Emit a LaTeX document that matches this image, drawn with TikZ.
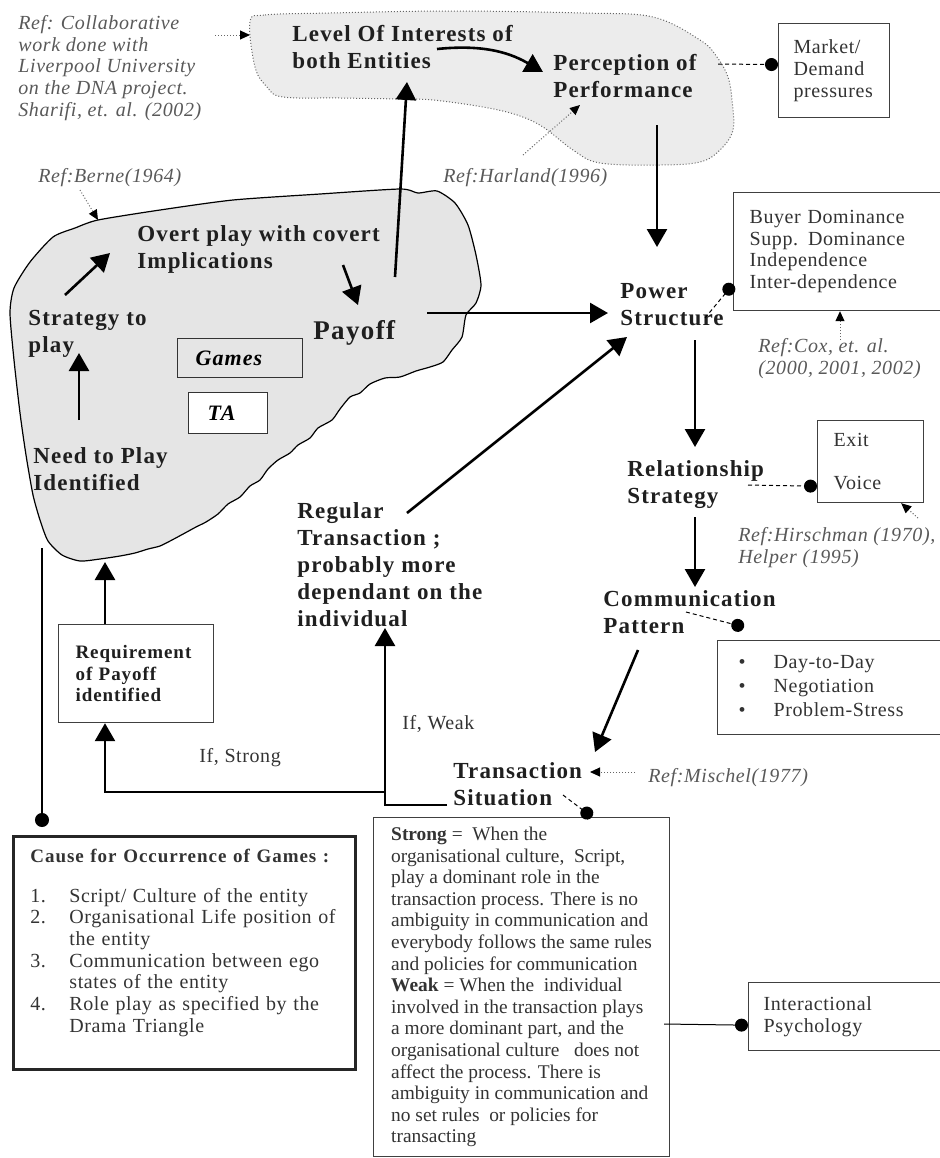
\documentclass[tikz,border=0pt]{standalone}
\usepackage{fontspec}
\setmainfont{Liberation Serif}
\newfontfamily\spacedfont[LetterSpace=5]{Liberation Serif}
\newfontfamily\lightspace[LetterSpace=3]{Liberation Serif}
\usetikzlibrary{arrows.meta}
\definecolor{cloudgray}{gray}{0.9}
\definecolor{mistgray}{gray}{0.925}

\begin{document}
\begin{tikzpicture}[x=0.5pt, y=-0.5pt,
    concept/.style={font=\spacedfont\bfseries\fontsize{11.5}{13.5}\selectfont, text=black!88, align=left, inner sep=0pt, anchor=north west},
    refnote/.style={font=\lightspace\itshape\fontsize{10}{10.85}\selectfont, text=black!65, align=left, inner sep=0pt, anchor=north west},
    smalltext/.style={font=\lightspace\fontsize{10}{10.85}\selectfont, text=black!80, inner sep=0pt, anchor=north west},
    infobox/.style={draw=black!75, line width=0.6pt, fill=white, anchor=north west, align=left, inner ysep=0pt, font=\lightspace\fontsize{10}{10.85}\selectfont, text=black!80},
    flow/.style={line width=1.3pt, -{Triangle[length=9pt,width=10pt]}},
    refarrow/.style={densely dotted, line width=0.5pt, draw=black!60, -{Triangle[length=5pt,width=4.5pt,color=black]}},
    dashlink/.style={dashed, dash pattern=on 2pt off 1.5pt, line width=0.5pt, -{Circle[length=6.5pt]}},
    dotend/.style={-{Circle[length=6.5pt]}}]
  \useasboundingbox (0,0) rectangle (939,1158);

  % the two clouds
  \draw[densely dotted, line width=0.5pt, draw=black!60, fill=mistgray] plot[smooth cycle, tension=0.6] coordinates {(250,22) (265,15) (330,13) (450,11) (583,13) (653,17) (700,40) (717,57) (728,77) (732,100) (733,130) (720,150) (700,162) (660,165) (600,163) (573,150) (543,127) (517,115) (483,107) (433,100) (400,99) (340,98) (283,97) (267,87) (255,67)};
  \coordinate (topcloud-w) at (250,35);
  \coordinate (topcloud-e) at (718,64);

  \draw[line width=0.6pt, fill=cloudgray] plot[smooth cycle, tension=0.4] coordinates {(98,220) (160,210) (233,200) (320,194) (400,189) (418,193) (437,191) (455,203) (468,225) (476,255) (481,285) (476,303) (466,315) (462,337) (452,350) (443,362) (430,367) (416,371) (400,377) (385,378) (370,384) (360,393) (350,397) (340,409) (332,420) (318,428) (310,438) (298,445) (290,453) (278,460) (268,469) (260,480) (250,486) (240,497) (228,504) (218,514) (206,522) (196,527) (185,533) (172,540) (160,546) (148,549) (135,553) (120,556) (100,559) (80,561) (62,555) (48,541) (40,520) (33,495) (26,455) (20,413) (14,360) (10,313) (14,288) (30,262) (53,237) (75,228)};
  \coordinate (gamecloud-n) at (98,220);
  \coordinate (gamecloud-s) at (105,562);
  \coordinate (gamecloud-sw) at (42,548);

  % references
  \node[refnote] (refcollab) at (18,15) {Ref: Collaborative\\work done with\\Liverpool University\\on the DNA project.\\Sharifi, et. al. (2002)};
  \node[refnote] (refberne) at (38,168) {Ref:Berne(1964)};
  \node[refnote] (refharland) at (443,168) {Ref:Harland(1996)};
  \node[refnote] (refcox) at (758,338) {Ref:Cox, et. al.\\(2000, 2001, 2002)};
  \node[refnote] (refhirsch) at (738,527) {Ref:Hirschman (1970),\\Helper (1995)};
  \node[refnote] (refmischel) at (648,768) {Ref:Mischel(1977)};

  % concepts
  \node[concept] (lvl) at (292,25) {Level Of Interests of\\both Entities};
  \node[concept] (perf) at (553,54) {Perception of\\Performance};
  \node[concept] (overt) at (137,225) {Overt play with covert\\Implications};
  \node[concept] (strat) at (28,310) {Strategy to\\play};
  \node[concept] (need) at (33,447) {Need to Play\\Identified};
  \node[concept, font=\spacedfont\bfseries\fontsize{13.5}{15}\selectfont] (payoff) at (313,320) {Payoff};
  \node[concept] (power) at (620,283) {Power\\Structure};
  \node[concept] (rel) at (627,460) {Relationship\\Strategy};
  \node[concept] (comm) at (603,590) {Communication\\Pattern};
  \node[concept] (trans) at (453,762) {Transaction\\Situation};
  \node[concept] (regular) at (297,502) {Regular\\Transaction ;\\probably more\\dependant on the\\individual};
  \node[smalltext] (ifstrong) at (199,748) {If, Strong};
  \node[smalltext] (ifweak) at (402,715) {If, Weak};

  % boxes
  \node[draw=black!80, line width=0.6pt, fill=cloudgray, anchor=north west, align=left, minimum width=62.5pt, minimum height=19.5pt, text width=44.5pt, inner xsep=9pt, font=\spacedfont\bfseries\itshape\fontsize{11}{12}\selectfont] (games) at (177,338) {Games};
  \node[draw=black!80, line width=0.6pt, fill=white, anchor=north west, align=left, minimum width=39.5pt, minimum height=20.5pt, text width=20.5pt, inner xsep=9.5pt, font=\spacedfont\bfseries\itshape\fontsize{11}{12}\selectfont] (ta) at (188,392) {TA};
  \node[infobox, minimum width=55.5pt, minimum height=47pt, text width=40.5pt, inner xsep=7.5pt] (market) at (778,23) {Market/\\Demand\\pressures};
  \node[infobox, minimum width=106pt, minimum height=59pt, text width=90pt, inner xsep=8pt] (buyer) at (733,192) {Buyer Dominance\\Supp. Dominance\\Independence\\Inter-dependence};
  \node[infobox, minimum width=53pt, minimum height=41pt, text width=37pt, inner xsep=8pt] (exitvoice) at (817,420) {Exit\\[10.85pt]Voice};
  \node[infobox, minimum width=114pt, minimum height=47pt, text width=93pt, inner xsep=10.5pt, font=\lightspace\fontsize{10}{12}\selectfont] (bullets) at (717,640) {\begin{tabular}{@{}l@{\hspace{14pt}}l@{}}\textbullet & Day-to-Day\\ \textbullet & Negotiation\\ \textbullet & Problem-Stress\end{tabular}};
  \node[infobox, minimum width=98.5pt, minimum height=34pt, text width=83.5pt, inner xsep=7.5pt] (interact) at (748,982) {Interactional\\Psychology};
  \node[infobox, minimum width=148pt, minimum height=169.5pt, inner xsep=0pt, font=\fontsize{9.7}{10.8}\selectfont] (strongbox) at (373,817) {\textbf{Strong} = ~When the\\organisational culture,~ Script,\\play a dominant role in the\\transaction process. There is no\\ambiguity in communication and\\everybody follows the same rules\\and policies for communication\\\textbf{Weak} = When the ~individual\\involved in the transaction plays\\a more dominant part, and the\\organisational culture ~ does not\\affect the process. There is\\ambiguity in communication and\\no set rules ~or policies for\\transacting};
  \node[infobox, draw=black!85, line width=1.4pt, minimum width=171pt, minimum height=116.5pt, text width=154pt, inner xsep=8.5pt] (causebox) at (12,835) {\begin{tabular}{@{}p{19.5pt}@{}l@{}}
      \multicolumn{2}{@{}l@{}}{\spacedfont\bfseries\fontsize{9.5}{10.85}\selectfont Cause for Occurrence of Games :}\\[9pt]
      1. & Script/ Culture of the entity\\
      2. & Organisational Life position of\\
         & the entity\\
      3. & Communication between ego\\
         & states of the entity\\
      4. & Role play as specified by the\\
         & Drama Triangle\\[10pt]
    \end{tabular}};
  \node[infobox, minimum width=77.5pt, minimum height=49pt, text width=60.5pt, inner xsep=8.5pt, font=\spacedfont\bfseries\fontsize{9.5}{10.75}\selectfont, text=black!88] (req) at (58,624) {Requirement\\of Payoff\\identified\\[4pt]};

  % connectors inside the game cloud
  \draw[flow] ([shift={(46,-27)}]need.north west) -- ([shift={(51,43)}]strat.north west);
  \draw[flow] ([shift={(37,-15)}]strat.north west) -- ([shift={(-27,28)}]overt.north west);
  \draw[flow] ([shift={(206,40)}]overt.north west) -- ([shift={(45,-15)}]payoff.north west);
  \draw[flow] ([shift={(82,-43)}]payoff.north west) -- ([shift={(115,57)}]lvl.north west);
  \draw[flow] ([shift={(114,-7)}]payoff.north west) -- ([shift={(-12,30)}]power.north west);
  \draw[flow] ([shift={(145,24)}]lvl.north west) to[bend left=18] ([shift={(-10,18)}]perf.north west);
  \draw[flow] ([shift={(104,71)}]perf.north west) -- ([shift={(37,-36)}]power.north west);
  \draw[flow] ([shift={(75,57)}]power.north west) -- ([shift={(68,-13)}]rel.north west);
  \draw[flow] ([shift={(68,57)}]rel.north west) -- ([shift={(92,-3)}]comm.north west);
  \draw[flow] ([shift={(35,60)}]comm.north west) -- ([shift={(142,-10)}]trans.north west);
  \draw[flow] ([shift={(110,11)}]regular.north west) -- ([shift={(7,54)}]power.north west);
  \draw[flow] ([shift={(-6,43)}]trans.north west) -| ([shift={(88,126)}]regular.north west);
  \draw[flow] ([shift={(-68,30)}]trans.north west) -| ([shift={(47,0)}]req.south west);
  \draw[flow] ([shift={(47,0)}]req.north west) -- (gamecloud-s);
  \draw[line width=1.3pt, -{Circle[length=7pt]}] (gamecloud-sw) -- ([shift={(30,-8)}]causebox.north west);

  % reference pointers
  \draw[refarrow] ([shift={(197,20)}]refcollab.north west) -- (topcloud-w);
  \draw[refarrow] ([shift={(42,22)}]refberne.north west) -- (gamecloud-n);
  \draw[refarrow] ([shift={(80,-13)}]refharland.north west) -- ([shift={(27,51)}]perf.north west);
  \draw[refarrow] ([shift={(82,2)}]refcox.north west) -- ([shift={(107,0)}]buyer.south west);
  \draw[refarrow] ([shift={(180,-9)}]refhirsch.north west) -- ([shift={(-23,0)}]exitvoice.south east);
  \draw[refarrow] ([shift={(-13,4)}]refmischel.north west) -- ([shift={(137,10)}]trans.north west);

  % dashed links to the side boxes
  \draw[dashlink] (topcloud-e) -- ([shift={(0,-6)}]market.west);
  \draw[dashlink] ([shift={(85,35)}]power.north west) -- ([shift={(0,-27)}]buyer.south west);
  \draw[dashlink] ([shift={(121,25)}]rel.north west) -- ([shift={(0,-17)}]exitvoice.south west);
  \draw[dashlink] ([shift={(83,22)}]comm.north west) -- ([shift={(27,-13)}]bullets.north west);
  \draw[dashlink] ([shift={(110,33)}]trans.north west) -- ([shift={(219,0)}]strongbox.north west);
  \draw[line width=0.5pt, dotend] ([shift={(-6,207)}]strongbox.north east) -- ([shift={(0,-26)}]interact.south west);
\end{tikzpicture}
\end{document}
